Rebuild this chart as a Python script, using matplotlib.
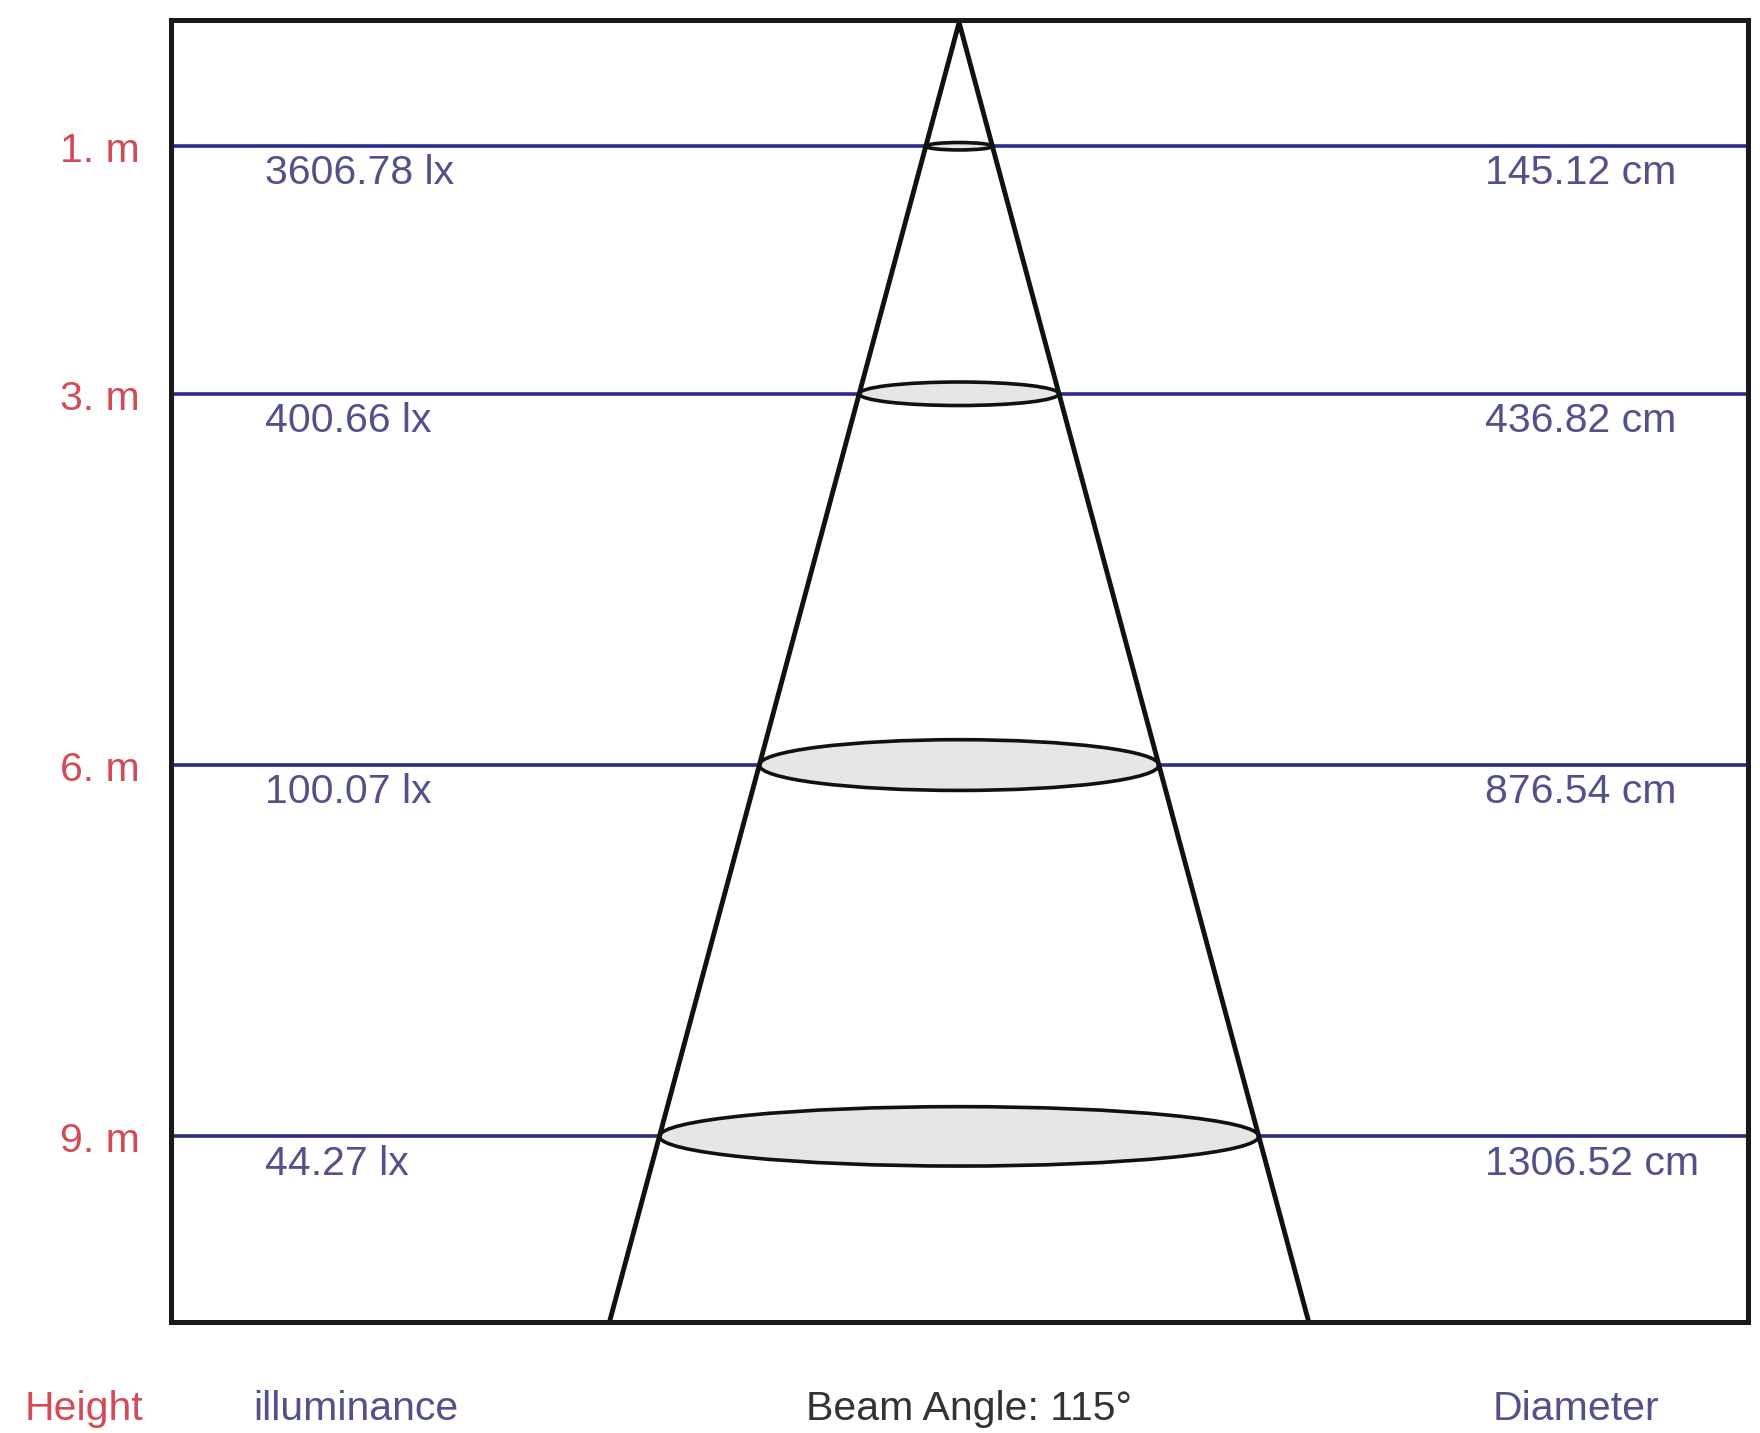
import matplotlib
matplotlib.use("Agg")
import matplotlib.pyplot as plt
from matplotlib.patches import Ellipse
import matplotlib.transforms as mtransforms

# ---- data ----
heights_m = [1, 3, 6, 9]
height_labels = ["1. m", "3. m", "6. m", "9. m"]
illuminance_labels = ["3606.78 lx", "400.66 lx", "100.07 lx", "44.27 lx"]
diameter_labels = ["145.12 cm", "436.82 cm", "876.54 cm", "1306.52 cm"]
beam_angle = 115
bottom_labels = ["Height", "illuminance", f"Beam Angle: {beam_angle}\u00b0", "Diameter"]

# ---- style ----
ellipse_heights = [0.06, 0.19, 0.41, 0.48]   # drawn (perspective) thickness of each disc
cone_spread = 1.0
depth_max = 10.5
x_half = 23.68
RED = "#d24b57"
TXT = "#52528a"
NAVY = "#2b2b8a"
FONT = "Liberation Sans"

W, H, DPI = 1760, 1433, 100
fig = plt.figure(figsize=(W / DPI, H / DPI), dpi=DPI)
fig.patch.set_facecolor("white")
ax = fig.add_axes([170.6 / W, 1 - 1322 / H, 1577 / W, 1302 / H])
ax.set_xlim(-x_half, x_half)
ax.set_ylim(depth_max, -0.02)
ax.set_xticks([])
ax.set_yticks([])
for s in ax.spines.values():
    s.set_linewidth(3.6)
    s.set_color("#1a1a1a")
    s.set_zorder(6)

# horizontal height lines
for h in heights_m:
    ax.axhline(h, color=NAVY, lw=2.6, zorder=2)

# discs
for h, eh in zip(heights_m, ellipse_heights):
    ax.add_patch(Ellipse((0, h), 2 * h * cone_spread, eh, facecolor="#e6e6e6",
                         edgecolor="#111111", lw=2.6, zorder=3))

# cone
ax.plot([-depth_max * cone_spread, 0, depth_max * cone_spread], [depth_max, 0, depth_max],
        color="#111111", lw=3.5, zorder=4, solid_joinstyle="round", clip_on=False)

# labels
trans = mtransforms.blended_transform_factory(ax.transAxes, ax.transData)
fs = 29.5
for h, hl, il, dl in zip(heights_m, height_labels, illuminance_labels, diameter_labels):
    ax.text(-0.0195, h + 0.04, hl, transform=trans, ha="right", va="center",
            color=RED, fontsize=fs, family=FONT, clip_on=False)
    ax.text(0.0599, h + 0.22, il, transform=trans, ha="left", va="center",
            color=TXT, fontsize=fs, family=FONT)
    ax.text(0.8335, h + 0.22, dl, transform=trans, ha="left", va="center",
            color=TXT, fontsize=fs, family=FONT)

bx = [84, 356, 969, 1576]
bcol = [RED, TXT, "#333333", TXT]
for x, t, c in zip(bx, bottom_labels, bcol):
    fig.text(x / W, 1 - 1420 / H, t, ha="center", va="baseline", color=c,
             fontsize=fs, family=FONT)

fig.savefig("out.png", dpi=DPI, facecolor="white")
